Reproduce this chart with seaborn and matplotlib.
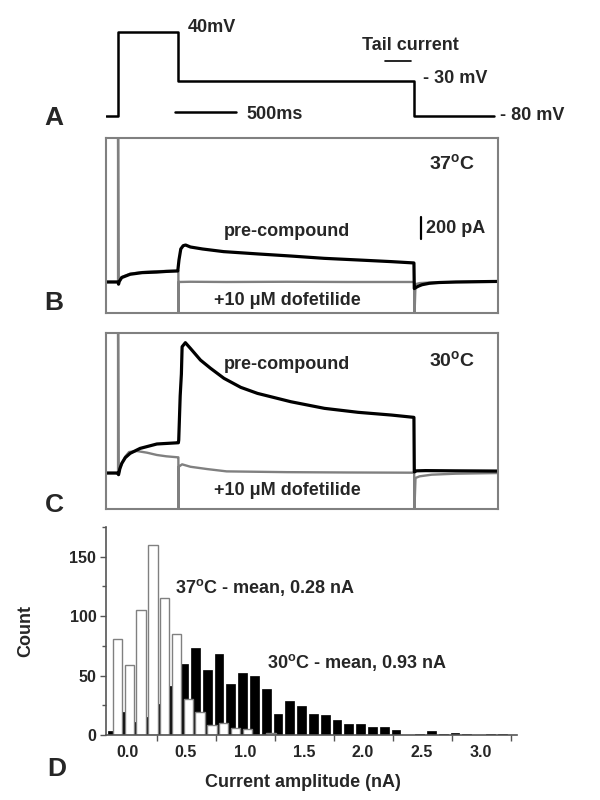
import numpy as np
import pandas as pd
import matplotlib
matplotlib.use('Agg')
from matplotlib import pyplot as plt
import seaborn as sns

sns.set_style('ticks')
plt.rcParams['font.family'] = ['Liberation Sans', 'DejaVu Sans']
plt.rcParams['font.weight'] = 'bold'
plt.rcParams['mathtext.fontset'] = 'custom'
plt.rcParams['mathtext.rm'] = 'Liberation Sans:bold'
plt.rcParams['mathtext.bf'] = 'Liberation Sans:bold'
plt.rcParams['mathtext.it'] = 'Liberation Sans:bold'

GRAY = '#808080'
FS = 13

# ---- A: voltage protocol (ms, mV)
proto_t = [0, 100, 100, 600, 600, 2555, 2555, 3220]
proto_mv = [-80, -80, 40, 40, -30, -30, -80, -80]

# ---- B: 37 C traces (ms, pA)
b_drug_t = [0, 100, 100, 104, 110, 130, 200, 300, 400, 500, 594, 600, 600, 604, 700, 1000,
            1500, 2000, 2555, 2555, 2566, 2600, 2700, 2900, 3250]
b_drug_i = [0, 0, 1500, -15, 10, 45, 75, 90, 97, 100, 102, 102, -400, 0, 2, 0,
            2, 0, 0, -400, -20, -10, -4, -1, 2]
b_ctrl_t = [0, 100, 104, 110, 130, 200, 300, 420, 500, 595, 605, 620, 640, 660, 700, 800,
            975, 1258, 1533, 1808, 2092, 2367, 2553, 2556, 2570, 2590, 2620, 2680, 2760,
            2900, 3100, 3250]
b_ctrl_i = [0, 0, -20, 5, 40, 70, 85, 90, 96, 100, 200, 300, 330, 336, 318, 300,
            276, 255, 236, 215, 200, 185, 173, -60, -50, -38, -25, -12, -5,
            0, 3, 5]

# ---- C: 30 C traces (ms, pA)
c_drug_t = [0, 100, 100, 104, 115, 131, 160, 191, 256, 340, 422, 500, 594, 600, 600, 603,
            631, 700, 839, 1000, 1500, 2000, 2555, 2555, 2566, 2600, 2700, 2900, 3250]
c_drug_i = [0, 0, 1500, -15, 40, 88, 150, 191, 200, 185, 164, 152, 143, 143, -400, 57,
            79, 57, 36, 15, 8, 5, 3, -400, -45, -30, -15, -6, 0]
c_ctrl_t = [0, 100, 104, 115, 131, 160, 200, 283, 422, 594, 600, 603, 615, 625, 631, 658,
            700, 783, 867, 978, 1117, 1256, 1533, 1811, 2089, 2367, 2553, 2556, 2575,
            2650, 2900, 3250]
c_ctrl_i = [0, 0, -15, 40, 88, 140, 179, 224, 264, 275, 275, 300, 700, 900, 1148, 1185,
            1133, 1027, 952, 861, 779, 724, 648, 588, 552, 527, 506, 10, 20,
            22, 20, 18]

# ---- D: amplitude histograms (nA bins, counts)
amp_30 = [-0.12, -0.02, 0.08, 0.18, 0.28, 0.38, 0.48, 0.58, 0.68, 0.78, 0.88, 0.98,
          1.08, 1.18, 1.28, 1.38, 1.48, 1.58, 1.68, 1.78, 1.88, 1.98, 2.08, 2.18,
          2.28, 2.38, 2.48, 2.58, 2.68, 2.78, 2.88, 2.98, 3.08, 3.18]
count_30 = [3, 19, 11, 15, 26, 41, 60, 73, 55, 68, 43, 52,
            50, 39, 18, 29, 24, 18, 17, 13, 9, 9, 7, 7,
            4, 0, 1, 3, 1, 2, 1, 0, 1, 1]
amp_37 = [-0.08, 0.02, 0.12, 0.22, 0.32, 0.42, 0.52, 0.62, 0.72, 0.82, 0.92, 1.02, 1.12, 1.22]
count_37 = [81, 59, 105, 160, 115, 85, 30, 19, 8, 10, 6, 5, 0, 2]

W, H = 600, 800
fig = plt.figure(figsize=(6, 8), dpi=100)


def add_ax(x0, y0, x1, y1):
    return fig.add_axes([x0 / W, 1 - y1 / H, (x1 - x0) / W, (y1 - y0) / H])


TMAX = 3250

# ---------------- A
axa = add_ax(106, 20, 498, 130)
sns.lineplot(x=proto_t, y=proto_mv, sort=False, estimator=None, color='black', lw=1.8, ax=axa)
axa.set_xlim(0, TMAX)
axa.set_ylim(-100, 57)
axa.axis('off')
axa.text(680, 46, '40mV', fontsize=FS, va='center', ha='left')
axa.text(2520, 21, 'Tail current', fontsize=FS, va='center', ha='center')
axa.plot([2313, 2529], [-1, -1], color='black', lw=1.2)
axa.text(2628, -26, '- 30 mV', fontsize=FS, va='center', ha='left')
axa.plot([575, 1075], [-74, -74], color='black', lw=1.8)
axa.text(1161, -78, '500ms', fontsize=FS, va='center', ha='left')
axa.text(3267, -80, '- 80 mV', fontsize=FS, va='center', ha='left')


def trace_panel(ax, drug_t, drug_i, ctrl_t, ctrl_i, ylim):
    sns.lineplot(x=drug_t, y=drug_i, sort=False, estimator=None, color=GRAY, lw=1.7, ax=ax)
    sns.lineplot(x=ctrl_t, y=ctrl_i, sort=False, estimator=None, color='black', lw=2.3, ax=ax)
    ax.set_xlim(0, TMAX)
    ax.set_ylim(*ylim)
    ax.set_xticks([])
    ax.set_yticks([])
    ax.set_xlabel('')
    ax.set_ylabel('')
    for s in ax.spines.values():
        s.set_color(GRAY)
        s.set_linewidth(1.5)


# ---------------- B
axb = add_ax(106, 138, 498, 313)
trace_panel(axb, b_drug_t, b_drug_i, b_ctrl_t, b_ctrl_i, (-282, 1309))
axb.text(2869, 1082, r'37$^{\mathbf{o}}$C', fontsize=14, ha='center', va='center')
axb.text(1501, 455, 'pre-compound', fontsize=FS, ha='center', va='center')
axb.plot([2612, 2612], [391, 591], color='black', lw=1.6)
axb.text(2650, 482, '200 pA', fontsize=FS, ha='left', va='center')
axb.text(1501, -164, '+10 μM dofetilide', fontsize=FS, ha='center', va='center')

# ---------------- C
axc = add_ax(106, 333, 498, 509)
trace_panel(axc, c_drug_t, c_drug_i, c_ctrl_t, c_ctrl_i, (-327, 1273))
axc.text(2869, 1027, r'30$^{\mathbf{o}}$C', fontsize=14, ha='center', va='center')
axc.text(1501, 991, 'pre-compound', fontsize=FS, ha='center', va='center')
axc.text(1501, -155, '+10 μM dofetilide', fontsize=FS, ha='center', va='center')

# ---------------- D
axd = add_ax(106, 527, 517, 735)
sns.barplot(x=amp_30, y=count_30, native_scale=True, width=0.75, color='black',
            saturation=1, edgecolor='black', linewidth=0.5, errorbar=None, ax=axd)
sns.barplot(x=amp_37, y=count_37, native_scale=True, width=0.8, color='white',
            saturation=1, edgecolor=GRAY, linewidth=1.0, errorbar=None, ax=axd)
axd.set_xlim(-0.178, 3.305)
axd.set_ylim(0, 175)
axd.set_xticks([0, 0.5, 1.0, 1.5, 2.0, 2.5, 3.0])
axd.set_xticklabels(['0.0', '0.5', '1.0', '1.5', '2.0', '2.5', '3.0'])
axd.set_xticks([0.25, 0.75, 1.25, 1.75, 2.25, 2.75, 3.25], minor=True)
axd.set_yticks([0, 50, 100, 150])
axd.set_yticks([25, 75, 125, 175], minor=True)
axd.tick_params(axis='x', which='major', length=0, pad=7, labelsize=11.5)
axd.tick_params(axis='x', which='minor', length=4, width=1, color='#555555')
axd.tick_params(axis='y', which='major', length=4, width=1, pad=3, labelsize=11.5, color='#555555')
axd.tick_params(axis='y', which='minor', length=3, width=1, color='#555555')
for lab in axd.get_xticklabels() + axd.get_yticklabels():
    lab.set_fontweight('bold')
sns.despine(ax=axd)
for s in ['left', 'bottom']:
    axd.spines[s].set_color('#555555')
    axd.spines[s].set_linewidth(1.2)
axd.set_ylabel('Count', fontsize=FS, fontweight='bold')
axd.yaxis.set_label_coords(-0.175, 0.5)
axd.set_xlabel('Current amplitude (nA)', fontsize=FS, fontweight='bold')
axd.xaxis.set_label_coords(0.48, -0.23)
axd.xaxis.label.set_va('center')
axd.text(0.41, 124, r'37$^{\mathbf{o}}$C - mean, 0.28 nA', fontsize=FS, ha='left', va='center')
axd.text(1.19, 61, r'30$^{\mathbf{o}}$C - mean, 0.93 nA', fontsize=FS, ha='left', va='center')

# panel letters
for letter, (px, py) in {'A': (54, 118), 'B': (54, 303), 'C': (54, 505), 'D': (57, 769)}.items():
    fig.text(px / W, 1 - py / H, letter, fontsize=19, fontweight='bold', ha='center', va='center')

fig.savefig('out.png', dpi=100)
